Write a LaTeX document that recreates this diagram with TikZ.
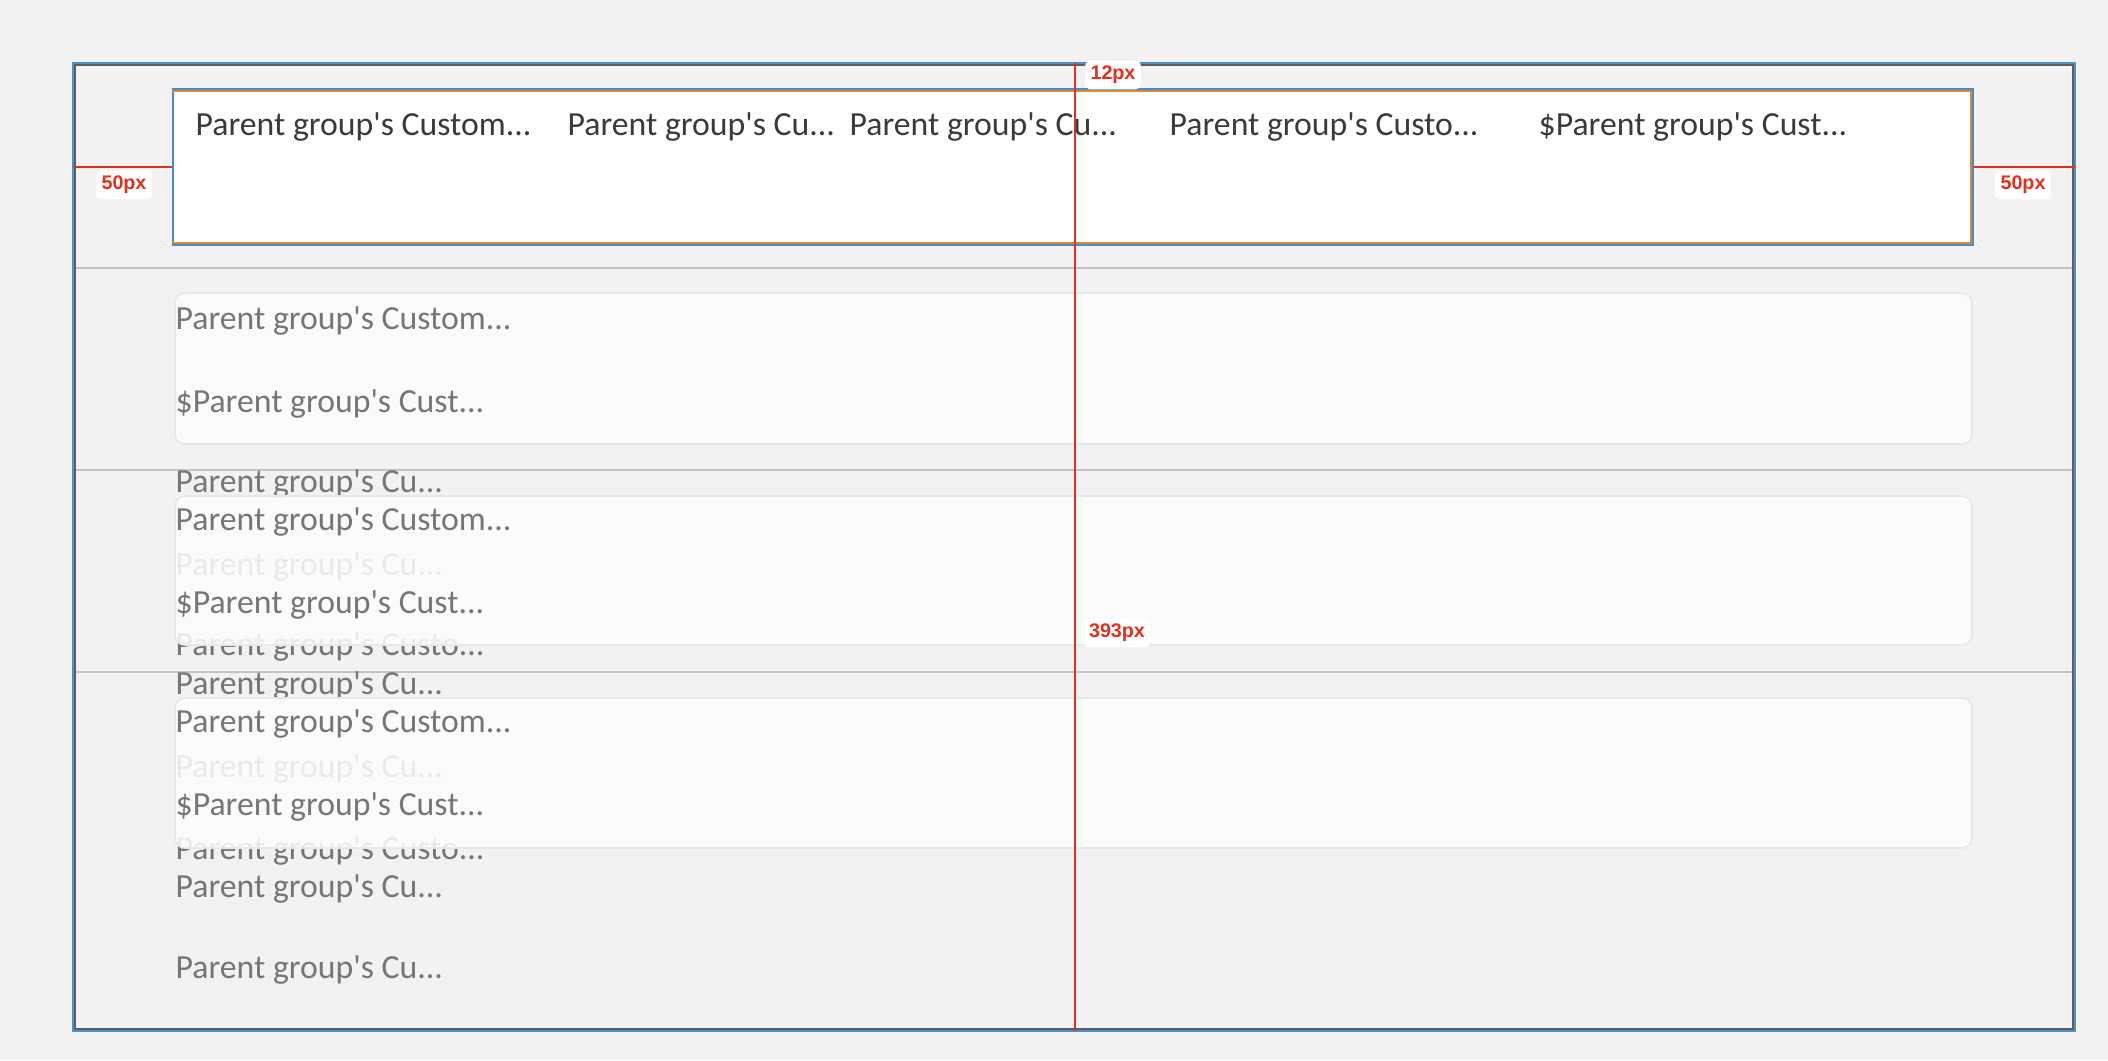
\documentclass[tikz,border=0pt]{standalone}
\usepackage{fontspec}
\newfontfamily\uifont{Carlito}
\newfontfamily\measfont{Liberation Sans}
\usepackage{tikz}
\usetikzlibrary{positioning,fit}

\definecolor{canvas}{HTML}{F3F1F2}
\definecolor{framegray}{HTML}{5E5E5E}
\definecolor{frameblue}{HTML}{4A92CC}
\definecolor{selblue}{HTML}{3F8ED2}
\definecolor{selorange}{HTML}{E0862C}
\definecolor{sepgray}{HTML}{C3C3C3}
\definecolor{boxline}{HTML}{E8E8E8}
\definecolor{boxfill}{HTML}{FDFDFD}
\definecolor{headink}{HTML}{3A3A3A}
\definecolor{rowink}{HTML}{767676}
\definecolor{measred}{HTML}{E0301E}

\begin{document}
\begin{tikzpicture}[x=0.1mm, y=-0.1mm,
    headtext/.style={
      anchor=base west,
      inner sep=0pt,
      text=headink,
      font=\uifont\fontsize{9.6pt}{11pt}\selectfont
    },
    celltext/.style={
      anchor=base west,
      inner sep=0pt,
      text=rowink,
      font=\uifont\fontsize{9.6pt}{11pt}\selectfont
    },
    rowbox/.style={
      rectangle,
      draw=boxline,
      fill=boxfill,
      fill opacity=0.86,
      rounded corners=1mm,
      line width=0.45pt,
      inner sep=0pt
    },
    headbox/.style={
      rectangle,
      draw=selblue,
      fill=white,
      line width=0.8pt,
      inner sep=0pt
    },
    sepline/.style={draw=sepgray, line width=0.55pt},
    measline/.style={draw=measred, line width=0.5pt},
    measlbl/.style={
      rectangle,
      fill=white,
      rounded corners=0.6mm,
      inner xsep=0.55mm,
      inner ysep=0.55mm,
      text=measred,
      font=\measfont\bfseries\fontsize{5.6pt}{6pt}\selectfont
    }
]

\useasboundingbox[fill=canvas] (0,0) rectangle (2108,1060);

\node [rectangle, inner sep=0pt, fit={(74,64) (2074,1030)}] (frame) {};

%% Row separators
\draw [sepline] (frame.west |- 0,268) -- (frame.east |- 0,268);
\draw [sepline] (frame.west |- 0,470) -- (frame.east |- 0,470);
\draw [sepline] (frame.west |- 0,672) -- (frame.east |- 0,672);

%% Texts that sit under the rows
\node [celltext] (b2a) at (175,492) {Parent group's Cu...};
\node [celltext] (b2b) at (175,575) {Parent group's Cu...};
\node [celltext] (b2c) at (175,655) {Parent group's Custo...};
\node [celltext] (b3a) at (175,694) {Parent group's Cu...};
\node [celltext] (b3b) at (175,777) {Parent group's Cu...};
\node [celltext] (b3c) at (175,859) {Parent group's Custo...};
\node [celltext] (b3d) at (175,897) {Parent group's Cu...};
\node [celltext] (b3e) at (175,978) {Parent group's Cu...};

%% Rows
\node [rowbox, fit={(175,293) (1972,444)}] (row1) {};
\node [rowbox, fit={(175,496) (1972,645)}] (row2) {};
\node [rowbox, fit={(175,698) (1972,848)}] (row3) {};

\node [celltext] (r1a) at (175,329) {Parent group's Custom...};
\node [celltext] (r1b) at (175,412) {\$Parent group's Cust...};
\node [celltext] (r2a) at (175,530) {Parent group's Custom...};
\node [celltext] (r2b) at (175,613) {\$Parent group's Cust...};
\node [celltext] (r3a) at (175,732) {Parent group's Custom...};
\node [celltext] (r3b) at (175,815) {\$Parent group's Cust...};

%% Selected header
\node [headbox, fit={(173,89) (1973,245)}] (head) {};
\draw [selorange, line width=0.6pt] ([shift={(0,3)}]head.north west) -- ([shift={(-3,3)}]head.north east) -- ([shift={(-3,-3)}]head.south east) -- ([shift={(0,-3)}]head.south west);

\node [headtext] (h1) at (195,135) {Parent group's Custom...};
\node [headtext] (h2) at (567,135) {Parent group's Cu...};
\node [headtext] (h3) at (849,135) {Parent group's Cu...};
\node [headtext] (h4) at (1169,135) {Parent group's Custo...};
\node [headtext] (h5) at (1538,135) {\$Parent group's Cust...};

%% Frame
\draw [frameblue, line width=0.6pt] (frame.north west) rectangle (frame.south east);
\draw [framegray, line width=0.5pt] ([shift={(2,2)}]frame.north west) rectangle ([shift={(-2,-2)}]frame.south east);

%% Measures
\coordinate (mid) at (1075,0);
\draw [measline] (head.west -| frame.west) -- (head.west);
\draw [measline] (head.east) -- (head.east -| frame.east);
\draw [measline] (mid |- frame.north) -- (mid |- frame.south);

\node [measlbl] (gapl) at (124,185) {50px};
\node [measlbl] (gapr) at (2023,185) {50px};
\node [measlbl] (gapt) at (1113,75) {12px};
\node [measlbl] (gapb) at (1117,633) {393px};

\end{tikzpicture}
\end{document}
